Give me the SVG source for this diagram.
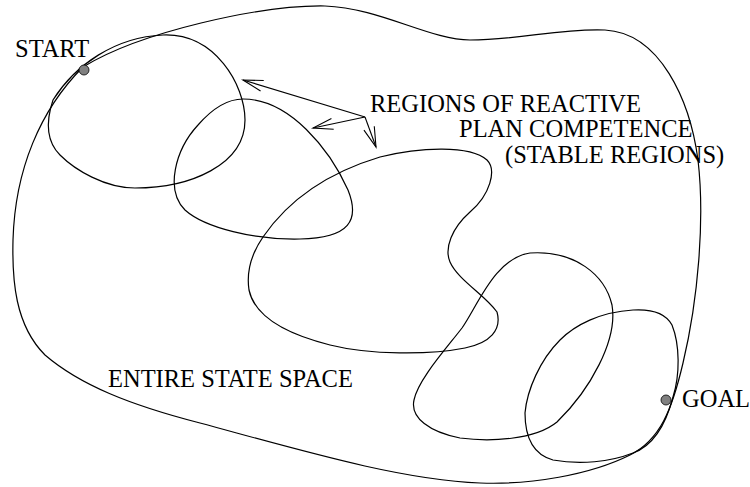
<svg xmlns="http://www.w3.org/2000/svg" width="750" height="487" viewBox="0 0 750 487">
<style>
.c{fill:none;stroke:#000;stroke-width:1.2}
.a{fill:none;stroke:#000;stroke-width:1.1}
.t{font-family:"Liberation Serif","Times New Roman",serif;font-size:24.5px;fill:#000}
.d{fill:#808080;stroke:#000;stroke-width:0.8}
</style>
<defs>
<marker id="ah" markerUnits="userSpaceOnUse" markerWidth="24" markerHeight="14" viewBox="-21 -7 24 14" refX="0" refY="0" orient="auto">
<path d="M-20,-5.5 L0,0 L-20,5.5" fill="none" stroke="#000" stroke-width="1.1"/>
</marker>
</defs>
<g id="state-space">
<path class="c" d="M 83,67 C 140,32 260,5 325,6 C 380,8 430,40 470,40 C 520,40 560,28 605,30 C 660,33 690,100 698,160 C 705,220 698,300 683,363 C 672,410 660,440 630,455 C 590,475 530,485 480,483 C 400,480 300,450 200,423 C 130,405 80,385 45,355 C 15,325 12,280 13,240 C 15,170 40,110 83,67 Z"/>
<text class="t" x="108" y="387">ENTIRE STATE SPACE</text>
</g>
<g id="region1"><path class="c" d="M 53,100 C 75,65 115,37 163,35 C 215,33 245,85 245,120 C 245,165 190,188 135,188 C 105,188 75,170 60,155 C 45,140 47,118 53,100 Z"/></g>
<g id="region2"><path class="c" d="M 243,99 C 290,99 330,150 348,190 C 360,220 350,238 300,239 C 255,240 205,228 185,210 C 165,190 175,150 198,125 C 212,109 228,99 243,99 Z"/></g>
<g id="region3"><path class="c" d="M 263,237 C 285,205 320,175 380,157 C 420,147 470,145 487,160 C 497,170 490,195 470,212 C 452,228 444,248 450,262 C 458,280 485,295 497,312 C 502,330 490,343 465,348 C 430,355 370,355 330,345 C 290,335 255,318 249,290 C 246,270 252,253 263,237 Z"/></g>
<g id="region4"><path class="c" d="M 530,253 C 575,250 605,275 612,305 C 618,340 590,390 557,422 C 535,440 490,442 460,438 C 430,432 410,418 414,400 C 418,380 445,350 462,328 C 478,305 495,258 530,253 Z"/></g>
<g id="region5"><path class="c" d="M 633,310 C 650,309 665,312 672,325 C 680,345 680,375 673,397 C 667,420 655,445 633,453 C 610,462 580,465 553,460 C 535,455 525,440 525,413 C 527,390 540,360 560,340 C 575,325 600,312 633,310 Z"/></g>
<g id="start"><circle class="d" cx="84" cy="70" r="5"/><text class="t" x="15" y="57">START</text></g>
<g id="goal"><circle class="d" cx="666" cy="400" r="5"/><text class="t" x="682" y="407">GOAL</text></g>
<g id="label"><text class="t" x="370" y="112">REGIONS OF REACTIVE</text><text class="t" x="459" y="137">PLAN COMPETENCE</text><text class="t" x="505" y="163">(STABLE REGIONS)</text></g>
<g id="connectors">
<line class="a" x1="365" y1="117" x2="243" y2="80" marker-end="url(#ah)"/>
<line class="a" x1="365" y1="117" x2="313" y2="128" marker-end="url(#ah)"/>
<line class="a" x1="365" y1="117" x2="376" y2="147" marker-end="url(#ah)"/>
</g>
</svg>
